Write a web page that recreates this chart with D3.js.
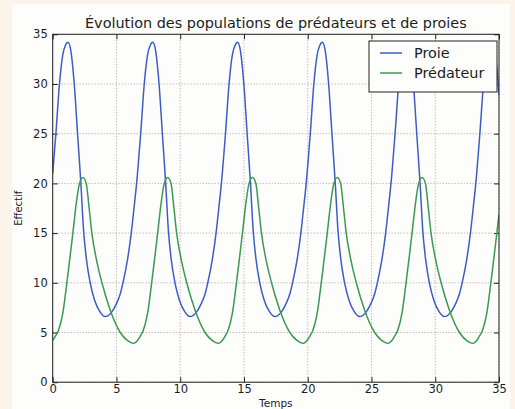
<!DOCTYPE html>
<html>
<head>
<meta charset="utf-8">
<script src="https://cdn.jsdelivr.net/npm/d3@7"></script>
<style>
  body { margin: 0; background: #fcf4ea; overflow: hidden; }
  text { font-family: "DejaVu Sans", sans-serif; fill: #1c1c1c; }
</style>
</head>
<body>
<div class="graph-div"></div>
<script>
var outerWidth = 515;
var outerHeight = 409;
var margin = {left: 52.7, top: 34.3, right: 16, bottom: 26.8};

var innerWidth = outerWidth - margin.left - margin.right;
var innerHeight = outerHeight - margin.top - margin.bottom;

var titleText = "Évolution des populations de prédateurs et de proies";
var xLabel = "Temps";
var yLabel = "Effectif";
var seriesNames = ["Proie", "Prédateur"];
var seriesColors = ["#3b5cc9", "#3a9a4e"];

var xTickValues = [0, 5, 10, 15, 20, 25, 30, 35];
var yTickValues = [0, 5, 10, 15, 20, 25, 30, 35];

// prey (Proie)
var preyTime = [
  0, 0.25, 0.53, 0.8, 1.0, 1.2, 1.4, 1.69, 1.95, 2.21, 2.42, 2.65, 2.94, 3.3, 3.7, 4.12, 4.6, 5.0, 5.3, 5.51, 5.85, 6.16, 6.4, 6.55,
  6.65, 6.9, 7.18, 7.45, 7.65, 7.85, 8.05, 8.34, 8.6, 8.86, 9.07, 9.3, 9.59, 9.95, 10.35, 10.77, 11.25, 11.65, 11.95, 12.16, 12.5, 12.81, 13.05, 13.2,
  13.3, 13.55, 13.83, 14.1, 14.3, 14.5, 14.7, 14.99, 15.25, 15.51, 15.72, 15.95, 16.24, 16.6, 17.0, 17.42, 17.9, 18.3, 18.6, 18.81, 19.15, 19.46, 19.7, 19.85,
  19.95, 20.2, 20.48, 20.75, 20.95, 21.15, 21.35, 21.64, 21.9, 22.16, 22.37, 22.6, 22.89, 23.25, 23.65, 24.07, 24.55, 24.95, 25.25, 25.46, 25.8, 26.11, 26.35, 26.5,
  26.6, 26.85, 27.13, 27.4, 27.6, 27.8, 28.0, 28.29, 28.55, 28.81, 29.02, 29.25, 29.54, 29.9, 30.3, 30.72, 31.2, 31.6, 31.9, 32.11, 32.45, 32.76, 33.0, 33.15,
  33.25, 33.5, 33.78, 34.05, 34.25, 34.45, 34.65, 34.94, 35.0
];
var preyValues = [
  21.0, 25.0, 30.0, 33.0, 33.9, 34.2, 33.5, 30.0, 25.0, 20.0, 15.3, 12.3, 10.0, 8.2, 7.1, 6.6, 7.0, 7.9, 8.9, 10.0, 12.2, 15.0, 17.8, 19.6,
  21.0, 25.0, 30.0, 33.0, 33.9, 34.2, 33.5, 30.0, 25.0, 20.0, 15.3, 12.3, 10.0, 8.2, 7.1, 6.6, 7.0, 7.9, 8.9, 10.0, 12.2, 15.0, 17.8, 19.6,
  21.0, 25.0, 30.0, 33.0, 33.9, 34.2, 33.5, 30.0, 25.0, 20.0, 15.3, 12.3, 10.0, 8.2, 7.1, 6.6, 7.0, 7.9, 8.9, 10.0, 12.2, 15.0, 17.8, 19.6,
  21.0, 25.0, 30.0, 33.0, 33.9, 34.2, 33.5, 30.0, 25.0, 20.0, 15.3, 12.3, 10.0, 8.2, 7.1, 6.6, 7.0, 7.9, 8.9, 10.0, 12.2, 15.0, 17.8, 19.6,
  21.0, 25.0, 30.0, 33.0, 33.9, 34.2, 33.5, 30.0, 25.0, 20.0, 15.3, 12.3, 10.0, 8.2, 7.1, 6.6, 7.0, 7.9, 8.9, 10.0, 12.2, 15.0, 17.8, 19.6,
  21.0, 25.0, 30.0, 33.0, 33.9, 34.2, 33.5, 30.0, 28.9
];

// predator (Prédateur)
var predatorTime = [
  0, 0.2, 0.45, 0.8, 1.11, 1.35, 1.58, 1.85, 2.1, 2.37, 2.63, 2.85, 3.07, 3.45, 3.86, 4.5, 5.3, 5.85, 6.35,
  6.65, 6.85, 7.1, 7.45, 7.76, 8.0, 8.23, 8.5, 8.75, 9.02, 9.28, 9.5, 9.72, 10.1, 10.51, 11.15, 11.95, 12.5, 13.0,
  13.3, 13.5, 13.75, 14.1, 14.41, 14.65, 14.88, 15.15, 15.4, 15.67, 15.93, 16.15, 16.37, 16.75, 17.16, 17.8, 18.6, 19.15, 19.65,
  19.95, 20.15, 20.4, 20.75, 21.06, 21.3, 21.53, 21.8, 22.05, 22.32, 22.58, 22.8, 23.02, 23.4, 23.81, 24.45, 25.25, 25.8, 26.3,
  26.6, 26.8, 27.05, 27.4, 27.71, 27.95, 28.18, 28.45, 28.7, 28.97, 29.23, 29.45, 29.67, 30.05, 30.46, 31.1, 31.9, 32.45, 32.95,
  33.25, 33.45, 33.7, 34.05, 34.36, 34.6, 34.83, 35.0
];
var predatorValues = [
  4.2, 4.6, 5.2, 7.0, 10.0, 12.5, 15.0, 18.0, 20.0, 20.6, 20.0, 17.6, 15.0, 12.2, 10.0, 7.3, 5.0, 4.2, 3.9,
  4.2, 4.6, 5.2, 7.0, 10.0, 12.5, 15.0, 18.0, 20.0, 20.6, 20.0, 17.6, 15.0, 12.2, 10.0, 7.3, 5.0, 4.2, 3.9,
  4.2, 4.6, 5.2, 7.0, 10.0, 12.5, 15.0, 18.0, 20.0, 20.6, 20.0, 17.6, 15.0, 12.2, 10.0, 7.3, 5.0, 4.2, 3.9,
  4.2, 4.6, 5.2, 7.0, 10.0, 12.5, 15.0, 18.0, 20.0, 20.6, 20.0, 17.6, 15.0, 12.2, 10.0, 7.3, 5.0, 4.2, 3.9,
  4.2, 4.6, 5.2, 7.0, 10.0, 12.5, 15.0, 18.0, 20.0, 20.6, 20.0, 17.6, 15.0, 12.2, 10.0, 7.3, 5.0, 4.2, 3.9,
  4.2, 4.6, 5.2, 7.0, 10.0, 12.5, 15.0, 16.9
];

var svg = d3.select(".graph-div").append("svg")
    .attr("width", outerWidth)
    .attr("height", outerHeight)
    .style("display", "block");

// white sheet of the figure over the cream page
svg.append("rect")
    .attr("x", 12).attr("y", 4)
    .attr("width", 498).attr("height", outerHeight - 4)
    .attr("fill", "#fdfdfc");

svg.append("text")
    .attr("x", margin.left + innerWidth / 2)
    .attr("y", 28)
    .attr("text-anchor", "middle")
    .style("font-size", "14.4px")
    .text(titleText);

var g = svg.append("g")
    .attr("transform", "translate(" + margin.left + "," + margin.top + ")");

var xScale = d3.scaleLinear().domain([0, 35]).range([0, innerWidth]);
var yScale = d3.scaleLinear().domain([0, 35]).range([innerHeight, 0]);

// dotted grid
g.append("g").selectAll("line").data(xTickValues).enter().append("line")
    .attr("x1", d => xScale(d)).attr("x2", d => xScale(d))
    .attr("y1", 0).attr("y2", innerHeight)
    .attr("stroke", "#b39c9c").attr("stroke-dasharray", "1,2");
g.append("g").selectAll("line").data(yTickValues).enter().append("line")
    .attr("y1", d => yScale(d)).attr("y2", d => yScale(d))
    .attr("x1", 0).attr("x2", innerWidth)
    .attr("stroke", "#b39c9c").attr("stroke-dasharray", "1,2");

var xAxis = d3.axisBottom(xScale).tickValues(xTickValues).tickSize(-5).tickPadding(3);
var yAxis = d3.axisLeft(yScale).tickValues(yTickValues).tickSize(-5).tickPadding(5);
var xAxisTop = d3.axisTop(xScale).tickValues(xTickValues).tickSize(-5).tickFormat("");
var yAxisRight = d3.axisRight(yScale).tickValues(yTickValues).tickSize(-5).tickFormat("");

var xAxisG = g.append("g").attr("transform", "translate(0," + innerHeight + ")").call(xAxis);
var yAxisG = g.append("g").call(yAxis);
g.append("g").call(xAxisTop);
g.append("g").attr("transform", "translate(" + innerWidth + ",0)").call(yAxisRight);

g.selectAll(".domain").remove();
g.selectAll(".tick line").attr("stroke", "#222");
g.selectAll(".tick text").style("font-size", "11.5px").attr("fill", "#1c1c1c");

g.append("clipPath").attr("id", "plot-clip")
  .append("rect").attr("width", innerWidth).attr("height", innerHeight);

var line = d3.line()
    .x(d => xScale(d[0]))
    .y(d => yScale(d[1]))
    .curve(d3.curveMonotoneX);

var preyData = preyTime.map((t, i) => [t, preyValues[i]]);
var predatorData = predatorTime.map((t, i) => [t, predatorValues[i]]);

g.append("path")
    .attr("d", line(preyData))
    .attr("clip-path", "url(#plot-clip)")
    .attr("fill", "none").attr("stroke", seriesColors[0]).attr("stroke-width", 1.5);

g.append("path")
    .attr("d", line(predatorData))
    .attr("clip-path", "url(#plot-clip)")
    .attr("fill", "none").attr("stroke", seriesColors[1]).attr("stroke-width", 1.5);

// frame
g.append("rect")
    .attr("width", innerWidth).attr("height", innerHeight)
    .attr("fill", "none").attr("stroke", "#222").attr("stroke-width", 1);

// axis labels
svg.append("text")
    .attr("x", margin.left + innerWidth / 2)
    .attr("y", 407)
    .attr("text-anchor", "middle")
    .style("font-size", "10.5px")
    .text(xLabel);

svg.append("text")
    .attr("transform", "translate(22," + (margin.top + innerHeight / 2) + ") rotate(-90)")
    .attr("text-anchor", "middle")
    .style("font-size", "10px")
    .text(yLabel);

// legend
var legend = svg.append("g").attr("transform", "translate(369,41)");
legend.append("rect")
    .attr("width", 128).attr("height", 51)
    .attr("fill", "#fdfdfc").attr("stroke", "#222").attr("stroke-width", 1);

seriesNames.forEach(function(name, i) {
  legend.append("line")
      .attr("x1", 11).attr("x2", 33)
      .attr("y1", 12 + i * 20).attr("y2", 12 + i * 20)
      .attr("stroke", seriesColors[i]).attr("stroke-width", 1.5);
  legend.append("text")
      .attr("x", 45).attr("y", 17 + i * 20)
      .style("font-size", "14.4px")
      .text(name);
});
</script>
</body>
</html>
